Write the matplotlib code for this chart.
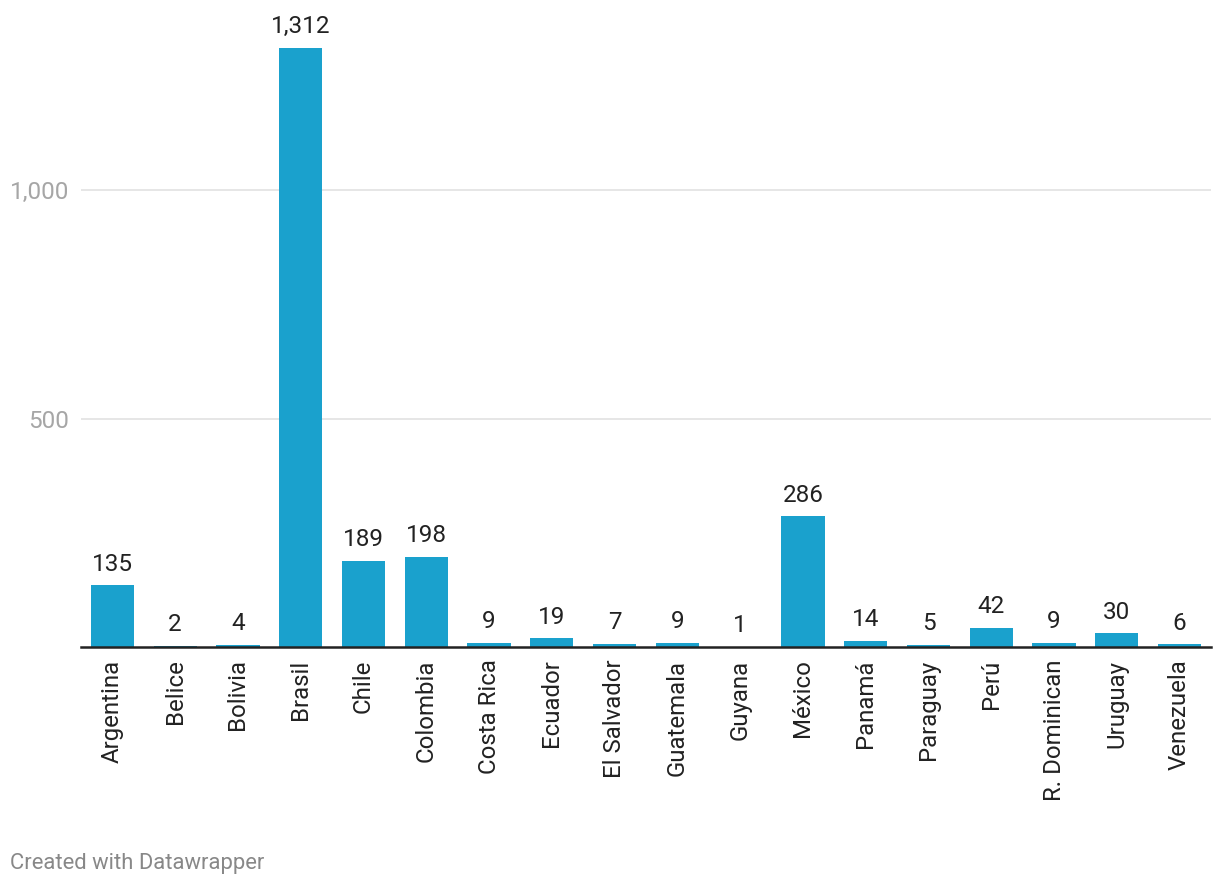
import matplotlib
matplotlib.use('Agg')
import matplotlib.pyplot as plt

countries = ['Argentina', 'Belice', 'Bolivia', 'Brasil', 'Chile', 'Colombia',
             'Costa Rica', 'Ecuador', 'El Salvador', 'Guatemala', 'Guyana',
             'México', 'Panamá', 'Paraguay', 'Perú', 'R. Dominican',
             'Uruguay', 'Venezuela']
values = [135, 2, 4, 1312, 189, 198, 9, 19, 7, 9, 1, 286, 14, 5, 42, 9, 30, 6]
yticks = [500, 1000]

plt.rcParams['font.family'] = ['Roboto', 'DejaVu Sans']

fig = plt.figure(figsize=(12.2, 8.86), dpi=100)
ax = fig.add_axes([81/1220, (886-647)/886, 1130/1220, 607/886])

x = range(len(countries))
bars = ax.bar(x, values, width=0.69, color='#1aa1cd', zorder=3)
for xi, v in zip(x, values):
    ax.annotate(f'{v:,}', (xi, v), xytext=(0, 7), textcoords='offset points',
                ha='center', va='bottom', fontsize=17.5, color='#222222')

ax.set_xlim(-0.5, len(countries) - 0.5)
ax.set_ylim(0, 1329)
ax.set_yticks(yticks)
ax.set_yticklabels([f'{t:,}' for t in yticks])
ax.set_xticks(list(x))
ax.set_xticklabels(countries, rotation=90, fontsize=17.3, color='#222222')
ax.tick_params(axis='x', length=0, pad=9)
ax.tick_params(axis='y', length=0, pad=8.5, labelsize=17.5, labelcolor='#a6a6a6')
ax.grid(axis='y', color='#e2e2e2', linewidth=1.2, zorder=0)
for s in ['top', 'right', 'left']:
    ax.spines[s].set_visible(False)
ax.spines['bottom'].set_color('#222222')
ax.spines['bottom'].set_linewidth(1.8)
ax.spines['bottom'].set_zorder(4)

fig.text(10/1220, 1 - 863/886, 'Created with Datawrapper', fontsize=15.8,
         color='#888888', ha='left', va='center')

fig.savefig('out.png', dpi=100)
